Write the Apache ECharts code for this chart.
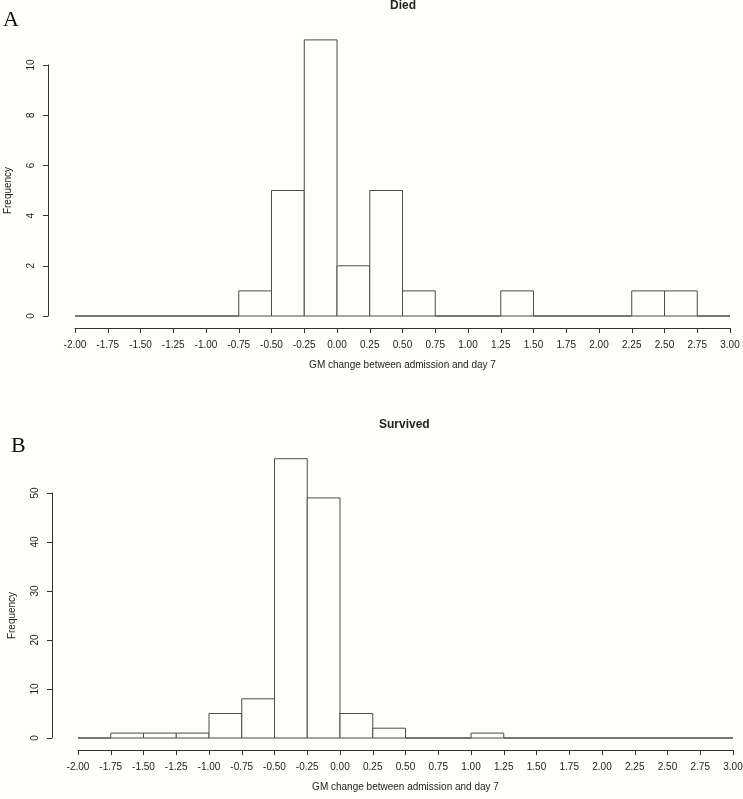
<!DOCTYPE html>
<html>
<head>
<meta charset="utf-8">
<script src="https://cdn.jsdelivr.net/npm/echarts@6/dist/echarts.min.js"></script>
<style>
html,body{margin:0;padding:0;background:#fefefb;}
#chart{width:743px;height:799px;}
</style>
</head>
<body>
<div id="chart"></div>
<script>
// Bin edges (GM change between admission and day 7)
var binEdges = [-2.00,-1.75,-1.50,-1.25,-1.00,-0.75,-0.50,-0.25,0.00,0.25,0.50,0.75,1.00,1.25,1.50,1.75,2.00,2.25,2.50,2.75,3.00];
// Frequencies per bin
var diedCounts     = [0,0,0,0,0,1,5,11,2,5,1,0,0,1,0,0,0,1,1,0];
var survivedCounts = [0,1,1,1,5,8,57,49,5,2,0,0,1,0,0,0,0,0,0,0];
var diedYTicks = {min:0, max:10, interval:2};
var survivedYTicks = {min:0, max:50, interval:10};

function toData(counts){
  var out = [];
  for (var i = 0; i < counts.length; i++) out.push([binEdges[i], binEdges[i+1], counts[i]]);
  return out;
}

var font = 'Liberation Sans, Arial, sans-serif';
var lineColor = '#333';
var textColor = '#222';

function renderItem(params, api){
  var x0 = api.value(0), x1 = api.value(1), c = api.value(2);
  var p0 = api.coord([x0, c]);
  var p1 = api.coord([x1, 0]);
  return {
    type: 'rect',
    shape: {x: p0[0], y: p0[1], width: p1[0]-p0[0], height: p1[1]-p0[1]},
    style: {fill: '#fefefb', stroke: '#4a4a4a', lineWidth: 1}
  };
}

function xAxisCfg(idx){
  return {
    gridIndex: idx, type: 'value', min: binEdges[0], max: binEdges[binEdges.length-1], interval: 0.25,
    offset: 12,
    axisLine: {show: true, onZero: false, lineStyle: {color: lineColor, width: 1}},
    axisTick: {show: true, length: 5, lineStyle: {color: lineColor}},
    splitLine: {show: false},
    axisLabel: {fontSize: 10, color: textColor, fontFamily: font, margin: 12, showMinLabel: true, showMaxLabel: true,
      formatter: function(v){ return v.toFixed(2); }},
    name: 'GM change between admission and day 7', nameLocation: 'middle', nameGap: 32,
    nameTextStyle: {fontSize: 10, color: textColor, fontFamily: font}
  };
}
function yAxisCfg(idx, t, off){
  return {
    gridIndex: idx, type: 'value', min: t.min, max: t.max, interval: t.interval,
    offset: off,
    axisLine: {show: true, onZero: false, lineStyle: {color: lineColor, width: 1}},
    axisTick: {show: true, length: 5, lineStyle: {color: lineColor}},
    splitLine: {show: false},
    axisLabel: {fontSize: 10, color: textColor, fontFamily: font, rotate: 90, margin: 12},
    name: 'Frequency', nameLocation: 'middle', nameGap: 35,
    nameTextStyle: {fontSize: 10, color: textColor, fontFamily: font}
  };
}

var chart = echarts.init(document.getElementById('chart'), null, {renderer: 'canvas'});
chart.setOption({
  backgroundColor: '#fefefb',
  animation: false,
  title: [
    {text: 'Died', left: 390, top: 0, padding: 0, textStyle: {fontSize: 12, fontWeight: 'bold', color: textColor, fontFamily: font}},
    {text: 'Survived', left: 379, top: 419, padding: 0, textStyle: {fontSize: 12, fontWeight: 'bold', color: textColor, fontFamily: font}},
    {text: 'A', left: 3, top: 9, padding: 0, textStyle: {fontSize: 22, fontWeight: 'normal', color: '#111', fontFamily: 'Liberation Serif, DejaVu Serif, serif'}},
    {text: 'B', left: 11, top: 435, padding: 0, textStyle: {fontSize: 22, fontWeight: 'normal', color: '#111', fontFamily: 'Liberation Serif, DejaVu Serif, serif'}}
  ],
  grid: [
    {left: 75, right: 13, top: 65, bottom: 483, containLabel: false, outerBoundsMode: 'none'},
    {left: 78, right: 10, top: 493, bottom: 61, containLabel: false, outerBoundsMode: 'none'}
  ],
  xAxis: [xAxisCfg(0), xAxisCfg(1)],
  yAxis: [yAxisCfg(0, diedYTicks, 27), yAxisCfg(1, survivedYTicks, 26)],
  series: [
    {type: 'custom', xAxisIndex: 0, yAxisIndex: 0, clip: false, renderItem: renderItem, data: toData(diedCounts), encode: {x: [0,1], y: 2}},
    {type: 'custom', xAxisIndex: 1, yAxisIndex: 1, clip: false, renderItem: renderItem, data: toData(survivedCounts), encode: {x: [0,1], y: 2}}
  ]
});
</script>
</body>
</html>
